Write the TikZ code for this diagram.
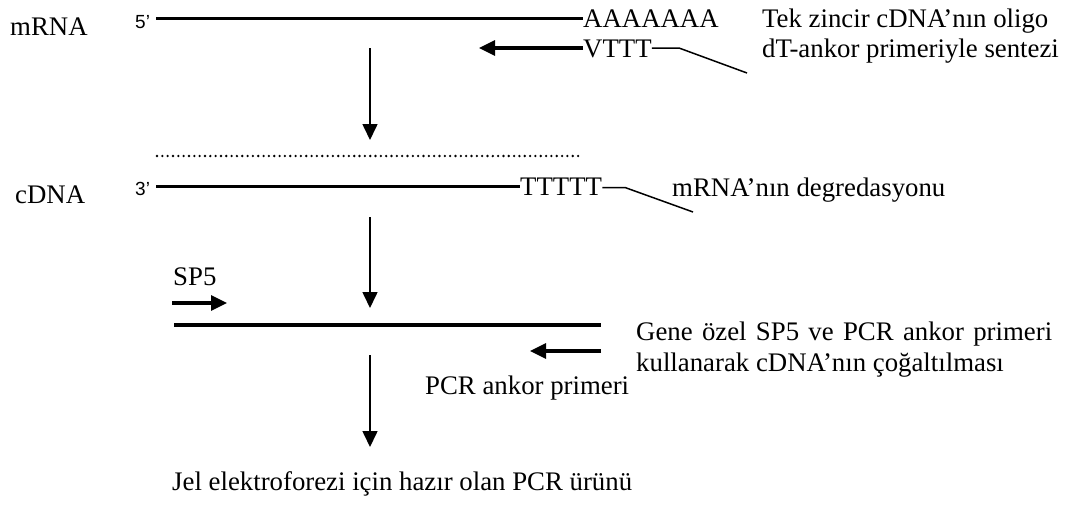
\documentclass[tikz,border=0pt]{standalone}
\usepackage{fontspec}
\setmainfont{Liberation Serif}
\newfontfamily\arialfont{Liberation Sans}
\usetikzlibrary{arrows.meta}
\begin{document}
\begin{tikzpicture}[x=1pt,y=-1pt,
  lbl/.style={anchor=base west,inner sep=0pt,font=\fontsize{26.8}{30}\selectfont},
  endlbl/.style={anchor=base west,inner sep=0pt,font=\arialfont\fontsize{19}{20}\selectfont},
  strand/.style={line width=3.2pt},
  primer/.style={line width=3.2pt,-{Triangle[length=16pt,width=15pt]}},
  flow/.style={line width=1.6pt,-{Triangle[length=16pt,width=15pt]}},
  leader/.style={line width=1.5pt},
  dotline/.style={line width=2.6pt,line cap=round,dash pattern=on 0pt off 5.33pt}]
\fill[white] (0,0) rectangle (1086,509);
\useasboundingbox (0,0) rectangle (1086,509);
% row 1
\node[lbl] (mrna) at (10,35) {mRNA};
\node[endlbl] (five) at (135,28.5) {5’};
\coordinate (m1) at (156,18.3);
\coordinate (m2) at (583,18.3);
\draw[strand] (m1) -- (m2);
\node[lbl] (polyA) at (583,27) {AAAAAAA};
\coordinate (p1) at (583,48);
\coordinate (p2) at (479,48);
\draw[primer] (p1) -- (p2);
\node[lbl] (vttt) at (583,57) {VTTT};
\coordinate (l1a) at (679,48);
\coordinate (l1b) at (747,73);
\draw[leader] (vttt.east |- p1) -- (l1a) -- (l1b);
\node[lbl] (tek1) at (762,27) {Tek zincir cDNA’nın oligo};
\node[lbl] (tek2) at (762,57) {dT-ankor primeriyle sentezi};
% arrow 1
\coordinate (a1s) at (370,48);
\coordinate (a1e) at (370,140);
\draw[flow] (a1s) -- (a1e);
% dotted degraded mRNA
\coordinate (d1) at (157,156);
\coordinate (d2) at (583,156);
\draw[dotline] (d1) -- (d2);
% cDNA row
\node[lbl] (cdna) at (15,203) {cDNA};
\node[endlbl] (three) at (135,195.5) {3’};
\coordinate (c1) at (156,186.5);
\coordinate (c2) at (520,186.5);
\draw[strand] (c1) -- (c2);
\node[lbl] (polyT) at (520,195.5) {TTTTT};
\coordinate (l2a) at (625,187.5);
\coordinate (l2b) at (693,212);
\draw[leader] (polyT.east |- l2a) -- (l2a) -- (l2b);
\node[lbl] (degr) at (672,196) {mRNA’nın degredasyonu};
% arrow 2
\coordinate (a2s) at (370,217);
\coordinate (a2e) at (370,308);
\draw[flow] (a2s) -- (a2e);
% PCR
\node[lbl] (sp5) at (173,285) {SP5};
\coordinate (s1) at (172,303);
\coordinate (s2) at (227,303);
\draw[primer] (s1) -- (s2);
\coordinate (pc1) at (174,325);
\coordinate (pc2) at (601,325);
\draw[strand] (pc1) -- (pc2);
\coordinate (r1) at (601,351);
\coordinate (r2) at (530,351);
\draw[primer] (r1) -- (r2);
\node[lbl] (gene1) at (636,340) {\makebox[416pt][s]{Gene özel SP5 ve PCR ankor primeri}};
\node[lbl] (gene2) at (636,371) {kullanarak cDNA’nın çoğaltılması};
\node[lbl] (pcrank) at (425,394) {PCR ankor primeri};
% arrow 3
\coordinate (a3s) at (370,355);
\coordinate (a3e) at (370,447);
\draw[flow] (a3s) -- (a3e);
\node[lbl] (jel) at (172,490) {Jel elektroforezi için hazır olan PCR ürünü};
\end{tikzpicture}
\end{document}
